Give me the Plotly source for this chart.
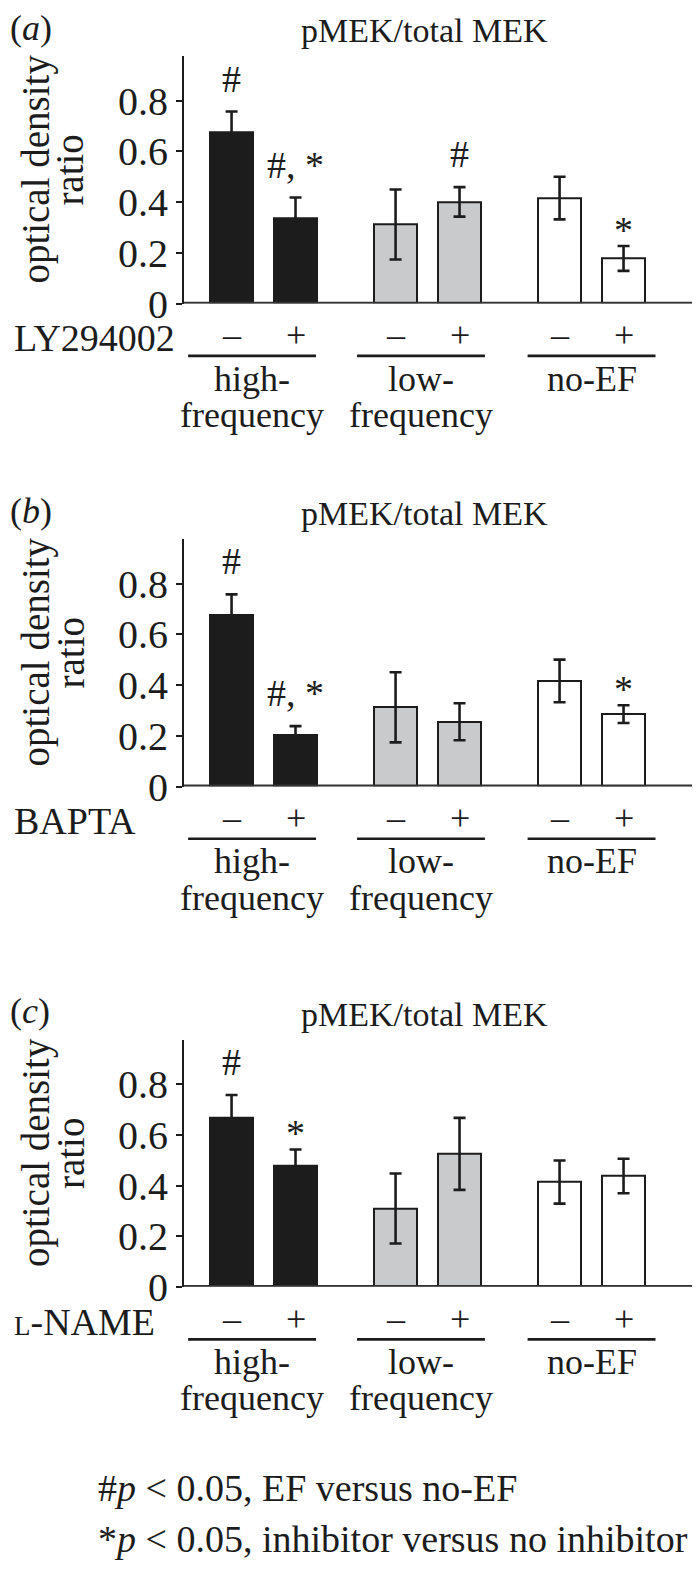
import plotly.graph_objects as go

# ---------------- data ----------------
groups = ["high-<br>frequency", "low-<br>frequency", "no-EF"]
signs = ["–", "+"]
panel_letters = ["a", "b", "c"]
inhibitors = ["LY294002", "BAPTA", "<span style='font-size:27px'>L</span>-NAME"]
title = "pMEK/total MEK"
y_title_lines = ["optical density", "ratio"]
tick_vals = [0, 0.2, 0.4, 0.6, 0.8]
tick_text = ["0", "0.2", "0.4", "0.6", "0.8"]

values_a = [0.675, 0.335, 0.312, 0.401, 0.416, 0.178]
errors_a = [0.082, 0.083, 0.138, 0.058, 0.084, 0.049]
marks_a = ["#", "#, *", "", "#", "", "*"]

values_b = [0.675, 0.203, 0.312, 0.255, 0.416, 0.285]
errors_b = [0.082, 0.035, 0.138, 0.073, 0.084, 0.035]
marks_b = ["#", "#, *", "", "", "", "*"]

values_c = [0.669, 0.477, 0.310, 0.525, 0.414, 0.438]
errors_c = [0.088, 0.065, 0.138, 0.142, 0.085, 0.068]
marks_c = ["#", "*", "", "", "", ""]

footnotes = ["#<i>p</i> < 0.05, EF versus no-EF",
             "*<i>p</i> < 0.05, inhibitor versus no inhibitor"]

# ---------------- layout constants ----------------
W, H = 700, 1580
FONT = "Liberation Serif"
FS = 36
INK = "#1c1c1c"
bar_colors = ["#1c1c1c", "#1c1c1c", "#c9cacc", "#c9cacc", "#ffffff", "#ffffff"]
zero_px = [300, 790, 1298]
unit_px = 257.5
ymax = 0.975
x_left_px = 176
xr = [0.515, 3.71]
offset = 0.195
bar_w = 0.262
group_shift = [-0.07, -0.04, 0.0]

group_pos = [1, 2, 3]
bar_x = [g + s for g in group_pos for s in (-offset, offset)]


def py(px):
    return 1 - px / H


panels = [
    (values_a, errors_a, marks_a),
    (values_b, errors_b, marks_b),
    (values_c, errors_c, marks_c),
]

fig = go.Figure()
annotations = []
shapes = []

for i, (vals, errs, marks) in enumerate(panels):
    n = "" if i == 0 else str(i + 1)
    xa, ya = "x" + n, "y" + n
    z = zero_px[i]
    fig.add_trace(go.Bar(
        x=bar_x, y=vals, width=bar_w,
        marker=dict(color=bar_colors, line=dict(color=INK, width=2)),
        error_y=dict(type="data", array=errs, symmetric=True,
                     color=INK, thickness=2.6, width=6),
        xaxis=xa, yaxis=ya, showlegend=False, hoverinfo="skip",
    ))
    fig.layout["xaxis" + n] = dict(
        domain=[x_left_px / W, 1], range=xr, anchor=ya,
        showticklabels=False, ticks="", showgrid=False, zeroline=False,
        showline=False,
    )
    fig.layout["yaxis" + n] = dict(
        domain=[py(z), py(z - ymax * unit_px)], range=[0, ymax], anchor=xa,
        tickvals=tick_vals, ticktext=tick_text, ticks="outside", ticklen=6,
        tickwidth=1.8, tickcolor=INK, showline=True, linewidth=2,
        linecolor=INK, showgrid=False, zeroline=False,
        tickfont=dict(family=FONT, size=40, color=INK),
    )
    # baseline (double rule look)
    shapes.append(dict(type="line", xref="paper", yref=ya,
                       x0=x_left_px / W, x1=1, y0=0, y1=0,
                       line=dict(color="#333333", width=4)))
    shapes.append(dict(type="line", xref="paper", yref=ya,
                       x0=x_left_px / W, x1=1, y0=0, y1=0,
                       line=dict(color="#8a8a8a", width=1)))
    # significance marks
    for xv, v, e, m in zip(bar_x, vals, errs, marks):
        if m:
            off = 0.13 if "#" in m else 0.065
            annotations.append(dict(x=xv, y=v + e + off, xref=xa, yref=ya,
                                    text=m, showarrow=False, yanchor="middle",
                                    font=dict(family=FONT, size=38, color=INK)))
    # panel letter
    annotations.append(dict(x=0 / W, y=py(z - 280), xref="paper", yref="paper",
                            text="(<i>%s</i>)" % panel_letters[i], showarrow=False,
                            xanchor="left", yanchor="middle",
                            font=dict(family=FONT, size=FS, color=INK)))
    # title
    annotations.append(dict(x=416 / W, y=py(z - 277), xref="paper", yref="paper",
                            text=title, showarrow=False, yanchor="middle",
                            font=dict(family=FONT, size=34, color=INK)))
    # y axis title (two rotated lines)
    for line, xp in zip(y_title_lines, (28, 62)):
        annotations.append(dict(x=xp / W, y=py(z - 136), xref="paper", yref="paper",
                                text=line, showarrow=False, textangle=-90,
                                xanchor="center", yanchor="middle",
                                font=dict(family=FONT, size=39, color=INK)))
    # inhibitor label
    annotations.append(dict(x=4 / W, y=py(z + 35), xref="paper", yref="paper",
                            text=inhibitors[i], showarrow=False,
                            xanchor="left", yanchor="middle",
                            font=dict(family=FONT, size=38, color=INK)))
    # signs
    for j, xv in enumerate(bar_x):
        annotations.append(dict(x=xv, y=py(z + 32), xref=xa, yref="paper",
                                text=signs[j % 2], showarrow=False, yanchor="middle",
                                font=dict(family=FONT, size=FS, color=INK)))
    # group underlines and labels
    for g, sh, lab in zip(group_pos, group_shift, groups):
        c = g + sh
        shapes.append(dict(type="line", xref=xa, yref="paper",
                           x0=c - 0.39, x1=c + 0.39, y0=py(z + 53), y1=py(z + 53),
                           line=dict(color=INK, width=2.6)))
        for k, line in enumerate(lab.split("<br>")):
            annotations.append(dict(x=c, y=py(z + 76 + 37 * k), xref=xa, yref="paper",
                                    text=line, showarrow=False, yanchor="middle",
                                    font=dict(family=FONT, size=FS, color=INK)))

for k, t in enumerate(footnotes):
    annotations.append(dict(x=88 / W, y=py(1502 + 52 * k), xref="paper", yref="paper",
                            text=t, showarrow=False, xanchor="left", yanchor="middle",
                            font=dict(family=FONT, size=38, color=INK)))

fig.update_layout(
    width=W, height=H, margin=dict(l=0, r=0, t=0, b=0),
    paper_bgcolor="white", plot_bgcolor="white",
    annotations=annotations, shapes=shapes, bargap=0,
    font=dict(family=FONT, color=INK),
)

fig.write_html("out.html")
